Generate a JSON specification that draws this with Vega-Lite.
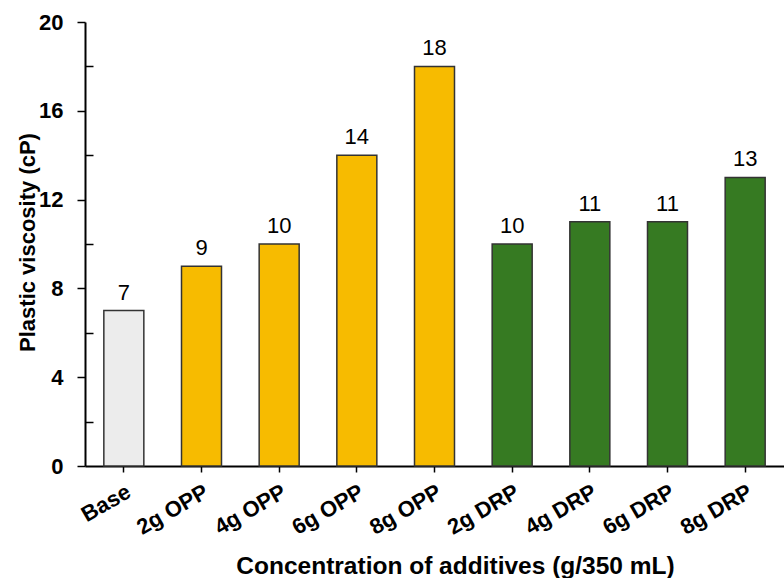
{
  "$schema": "https://vega.github.io/schema/vega-lite/v6.json",
  "width": 699,
  "height": 444,
  "autosize": "none",
  "padding": {"left": 85, "top": 22, "right": 0, "bottom": 112},
  "background": "white",
  "config": {"view": {"stroke": null}, "font": "Liberation Sans"},
  "data": {
    "values": [
      {"sample": "Base", "group": "Base", "pv": 7},
      {"sample": "2g OPP", "group": "OPP", "pv": 9},
      {"sample": "4g OPP", "group": "OPP", "pv": 10},
      {"sample": "6g OPP", "group": "OPP", "pv": 14},
      {"sample": "8g OPP", "group": "OPP", "pv": 18},
      {"sample": "2g DRP", "group": "DRP", "pv": 10},
      {"sample": "4g DRP", "group": "DRP", "pv": 11},
      {"sample": "6g DRP", "group": "DRP", "pv": 11},
      {"sample": "8g DRP", "group": "DRP", "pv": 13}
    ]
  },
  "resolve": {"axis": {"x": "independent", "y": "independent"}},
  "layer": [
    {
      "mark": {"type": "bar", "stroke": "#333333", "strokeWidth": 1.5},
      "encoding": {
        "x": {
          "field": "sample", "type": "nominal", "sort": null,
          "scale": {"paddingInner": 0.485, "paddingOuter": 0.2425},
          "axis": {
            "orient": "bottom",
            "labelAngle": -30, "labelAlign": "right", "labelBaseline": "top",
            "labelFontSize": 22, "labelFontWeight": "bold", "labelColor": "black",
            "labelPadding": 9,
            "tickSize": 6, "tickColor": "black", "tickWidth": 1.5,
            "domainColor": "black", "domainWidth": 2,
            "title": "Concentration of additives (g/350 mL)",
            "titleFontSize": 24.5, "titleFontWeight": "bold", "titleColor": "black",
            "titleBaseline": "alphabetic", "titleX": 370, "titleY": 107
          }
        },
        "y": {
          "field": "pv", "type": "quantitative",
          "scale": {"domain": [0, 20]},
          "axis": {
            "orient": "left",
            "values": [0, 4, 8, 12, 16, 20], "grid": false,
            "labelFontSize": 22, "labelFontWeight": "bold", "labelColor": "black",
            "labelPadding": 14,
            "tickSize": 8, "tickColor": "black", "tickWidth": 1.5,
            "domainColor": "black", "domainWidth": 2,
            "title": "Plastic viscosity (cP)",
            "titleFontSize": 22, "titleFontWeight": "bold", "titleColor": "black",
            "titleBaseline": "middle", "titleX": -58, "titleY": 220, "titleAngle": -90
          }
        },
        "color": {
          "field": "group", "type": "nominal",
          "scale": {"domain": ["Base", "OPP", "DRP"], "range": ["#ececec", "#f7bb00", "#367a22"]},
          "legend": null
        }
      }
    },
    {
      "mark": {"type": "text", "dy": -11, "fontSize": 22, "baseline": "alphabetic", "color": "black"},
      "encoding": {
        "x": {
          "field": "sample", "type": "nominal", "sort": null,
          "axis": {"orient": "bottom", "labels": false, "domain": false, "title": null, "tickSize": -5, "tickColor": "black", "tickWidth": 1.5}
        },
        "y": {
          "field": "pv", "type": "quantitative",
          "axis": {"orient": "left", "values": [2, 6, 10, 14, 18], "labels": false, "domain": false, "grid": false, "title": null, "tickSize": -8, "tickColor": "black", "tickWidth": 1.5}
        },
        "text": {"field": "pv", "type": "quantitative"}
      }
    }
  ]
}
